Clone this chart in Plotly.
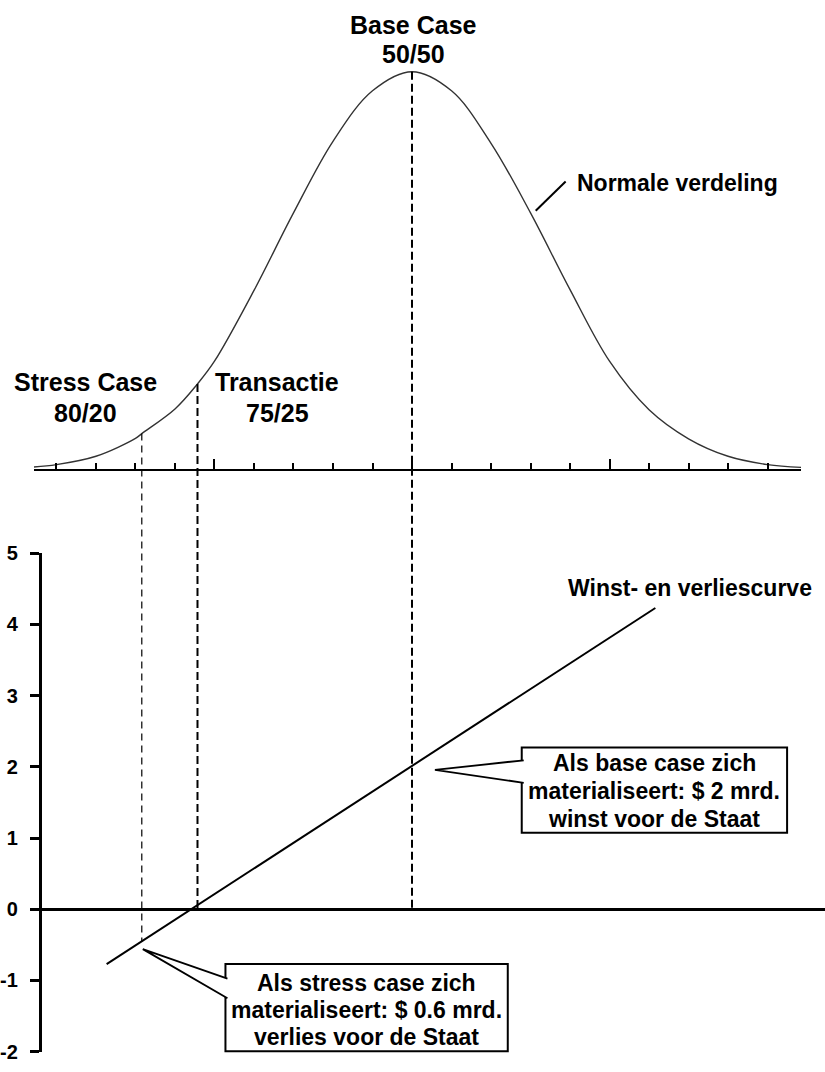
import numpy as np
import plotly.graph_objects as go

# ---------------- data ----------------
# Scenario axis in schematic units: one tick mark per unit, 0 = base case
curve_x = [-9.57, -9, -8, -7, -6.84, -6, -5.43, -5, -4, -3, -2, -1, 0,
           1, 2, 3, 4, 5, 6, 7, 8, 9, 9.85]
# relative height of the normal curve (peak = 1)
curve_density = [0.006, 0.012, 0.033, 0.078, 0.09, 0.152, 0.215, 0.272, 0.45,
                 0.645, 0.825, 0.952, 1.0, 0.952, 0.82, 0.645, 0.452, 0.272,
                 0.15, 0.077, 0.033, 0.012, 0.005]

# profit & loss line ($ mrd.)
profit_x = [-7.73, 6.16]
profit_y = [-0.77, 4.23]

scenario_names = ["Stress Case", "Transactie", "Base Case"]
scenario_splits = ["80/20", "75/25", "50/50"]
scenario_x = [-6.84, -5.43, 0.0]
scenario_density = [0.09, 0.215, 1.0]

y_ticks = [-2, -1, 0, 1, 2, 3, 4, 5]

callout_base = ["Als base case zich", "materialiseert: $ 2 mrd.", "winst voor de Staat"]
callout_stress = ["Als stress case zich", "materialiseert: $ 0.6 mrd.", "verlies voor de Staat"]

# ---------------- geometry / style ----------------
W, H = 825, 1072
FONT = "Liberation Sans, Arial, Helvetica, sans-serif"
PX_PER_UNIT = 39.6
X0_PX = 411.0


def xp(px):
    return px / W


def yp(py):
    return 1 - py / H


def unit(px):
    return (px - X0_PX) / PX_PER_UNIT


# bottom panel
bot_dom = [yp(1062.5), yp(553.5)]
bot_range = [-2, 5]
# top panel
top_base_px, top_peak_px = 468.0, 62.0
top_dom = [yp(top_base_px), 1.0]
top_range = [0, top_base_px / (top_base_px - top_peak_px)]


def top_paper(v):
    return top_dom[0] + (v - top_range[0]) / (top_range[1] - top_range[0]) * (top_dom[1] - top_dom[0])


def bot_paper(v):
    return bot_dom[0] + (v - bot_range[0]) / (bot_range[1] - bot_range[0]) * (bot_dom[1] - bot_dom[0])


def bot_px_y(v):
    return (1 - bot_paper(v)) * H


fig = go.Figure()

# normal curve
fig.add_trace(go.Scatter(x=curve_x, y=curve_density, mode="lines",
                         line=dict(color="#333333", width=1.4, shape="spline", smoothing=1.0),
                         xaxis="x2", yaxis="y2", hoverinfo="skip"))
# profit & loss line
fig.add_trace(go.Scatter(x=profit_x, y=profit_y, mode="lines",
                         line=dict(color="black", width=2),
                         xaxis="x", yaxis="y", hoverinfo="skip"))

shapes = []
# dashed scenario lines from the curve down to the P&L panel
drop_to = [float(np.interp(scenario_x[0], profit_x, profit_y)), 0.0, 0.0]
dash_width = [1.2, 2, 2]
dash_pat = ["7px,5px", "8px,4px", "8px,4px"]
for sx, sd, end, w, dp in zip(scenario_x, scenario_density, drop_to, dash_width, dash_pat):
    shapes.append(dict(type="line", xref="x", yref="paper", x0=sx, x1=sx,
                       y0=top_paper(sd), y1=bot_paper(end),
                       line=dict(color="black", width=w, dash=dp), layer="above"))

# "Normale verdeling" pointer
shapes.append(dict(type="line", xref="paper", yref="paper",
                   x0=xp(535), y0=yp(204), x1=xp(565), y1=yp(174),
                   line=dict(color="black", width=2)))


def callout(box, tip, attach_top, attach_bot):
    x0, y0, x1, y1 = box
    out = [dict(type="rect", xref="paper", yref="paper",
                x0=xp(x0), x1=xp(x1), y0=yp(y0), y1=yp(y1),
                line=dict(color="black", width=2), fillcolor="white", layer="above")]
    ax = x0 + 2
    path = (f"M {xp(ax)},{yp(attach_top)} L {xp(tip[0])},{yp(tip[1])} "
            f"L {xp(ax)},{yp(attach_bot)}")
    out.append(dict(type="path", xref="paper", yref="paper", path=path,
                    fillcolor="white", line=dict(color="black", width=1.8), layer="above"))
    return out


# base case callout: tip just right of the P&L line at the base case
base_tip = (X0_PX + scenario_x[2] * PX_PER_UNIT + 23,
            bot_px_y(float(np.interp(scenario_x[2], profit_x, profit_y))) + 4)
shapes += callout((521, 752, 787, 839), base_tip, 765, 788)
# stress case callout: tip just below the P&L line at the stress case
stress_tip = (X0_PX + scenario_x[0] * PX_PER_UNIT + 1,
              bot_px_y(drop_to[0]) + 8)
shapes += callout((224, 973, 507, 1062), stress_tip, 988, 1008)

annotations = []


def label(text, cx, cy, size, xanchor="center"):
    annotations.append(dict(text=text, x=xp(cx), y=yp(cy), xref="paper", yref="paper",
                            xanchor=xanchor, yanchor="middle", showarrow=False,
                            font=dict(family=FONT, size=size, color="black", weight="bold")))


# scenario labels
label(scenario_names[2], 412, 14, 25)
label(scenario_splits[2], 412, 44, 25)
label(scenario_names[0], 84, 379, 25)
label(scenario_splits[0], 84, 410, 25)
label(scenario_names[1], 276, 379, 25)
label(scenario_splits[1], 276, 410, 25)
label("Normale verdeling", 574, 176, 23, xanchor="left")
label("Winst- en verliescurve", 565, 589, 23, xanchor="left")

for i, t in enumerate(callout_base):
    label(t, 654, 768 + 28.5 * i, 23)
for i, t in enumerate(callout_stress):
    label(t, 365.5, 992 + 28 * i, 23)

fig.update_layout(
    width=W, height=H,
    margin=dict(l=0, r=0, t=0, b=0),
    paper_bgcolor="white", plot_bgcolor="rgba(0,0,0,0)",
    showlegend=False,
    shapes=shapes, annotations=annotations,
    xaxis=dict(domain=[xp(40), 1], range=[unit(40), unit(W)], visible=False,
               fixedrange=True),
    yaxis=dict(domain=bot_dom, range=bot_range, anchor="x",
               tickmode="array", tickvals=y_ticks, ticktext=[str(v) for v in y_ticks],
               showline=True, linecolor="black", linewidth=3,
               ticks="outside", ticklen=9, tickwidth=3, tickcolor="black",
               ticklabelstandoff=8, ticklabeloverflow="allow",
               tickfont=dict(family=FONT, size=20, color="black", weight="bold"),
               showgrid=False, zeroline=True, zerolinecolor="black", zerolinewidth=3),
    xaxis2=dict(domain=[xp(32), xp(801)], range=[unit(32), unit(801)], anchor="y2",
                showline=True, linecolor="black", linewidth=2,
                tickmode="linear", tick0=0, dtick=5,
                ticks="inside", ticklen=10, tickwidth=1.5, tickcolor="black",
                minor=dict(tick0=0, dtick=1, ticks="inside", ticklen=6, tickwidth=1.5,
                           tickcolor="black", showgrid=False),
                showticklabels=False, showgrid=False, zeroline=False),
    yaxis2=dict(domain=top_dom, range=top_range, anchor="x2", visible=False),
)

fig.write_html("out.html", config={"displayModeBar": False},
               post_script="document.body.style.margin='0';document.body.style.padding='0';")
